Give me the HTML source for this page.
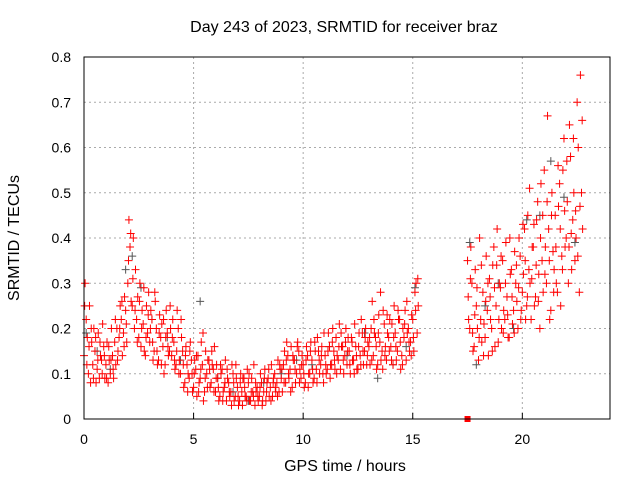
<!DOCTYPE html>
<html><head><meta charset="utf-8"><style>
body{margin:0;background:#fff}
svg{display:block;font-family:"Liberation Sans",sans-serif}
</style></head><body>
<svg id="chart" width="640" height="480">
<rect width="640" height="480" fill="#fff"/>
<text x="344" y="32" font-size="16" text-anchor="middle">Day 243 of 2023, SRMTID for receiver braz</text>
<text x="345" y="471" font-size="16" text-anchor="middle">GPS time / hours</text>
<text transform="translate(19,238) rotate(-90)" font-size="16" text-anchor="middle">SRMTID / TECUs</text>
<g id="grid"></g><g id="ticks"></g><g id="marks"></g>
<rect x="84" y="57" width="526" height="362" fill="none" stroke="#000" stroke-width="1"/>
</svg>
<script>
const xTicks=[0,5,10,15,20];
const yTicks=[0,0.1,0.2,0.3,0.4,0.5,0.6,0.7,0.8];
const yTickLabels=["0","0.1","0.2","0.3","0.4","0.5","0.6","0.7","0.8"];
const segAStart=0.0;
const segAValues1=[0.14,0.22,0.10,0.08,0.12,0.15,0.11,0.09,0.13,0.16,0.12,0.08,0.10,0.14,0.17,0.20,0.18,0.22,0.19,0.24,0.30,0.38,0.25,0.20,0.22,0.18,0.16,0.21,0.14,0.19,0.17,0.22,0.15,0.20,0.13,0.18,0.16,0.12,0.19,0.15,0.14,0.17,0.12,0.20,0.10,0.15,0.08,0.12,0.09,0.13,0.07,0.11,0.14,0.09,0.12,0.06,0.10,0.13,0.08,0.11,0.06,0.09,0.05,0.11,0.07,0.04,0.08,0.06,0.10,0.05,0.07,0.04,0.06,0.09,0.05,0.08,0.04,0.06,0.03,0.07,0.05,0.08,0.06,0.04,0.09,0.07,0.05,0.10,0.08,0.06,0.09,0.12,0.08,0.14,0.11,0.07,0.13,0.10,0.15,0.09,0.12,0.08,0.14,0.10,0.13,0.09,0.11,0.15,0.12,0.10,0.14,0.11,0.16,0.12,0.15,0.18,0.13,0.11,0.16,0.14,0.12,0.15,0.18,0.13,0.16,0.11,0.14,0.19,0.15,0.12,0.16,0.20,0.14,0.18,0.12,0.17,0.15,0.21,0.13,0.18,0.16,0.12,0.19,0.15,0.22,0.14,0.18,0.13,0.20,0.17,0.22,0.28,0.19];
const segAValues2=[0.30,0.18,0.25,0.17,0.20,0.08,0.19,0.14,0.21,0.09,0.17,0.13,0.20,0.09,0.12,0.15,0.25,0.14,0.27,0.17,0.44,0.26,0.40,0.33,0.27,0.30,0.24,0.15,0.25,0.28,0.24,0.13,0.26,0.12,0.23,0.21,0.10,0.24,0.14,0.20,0.22,0.11,0.24,0.13,0.18,0.07,0.16,0.10,0.17,0.06,0.13,0.05,0.08,0.17,0.04,0.15,0.13,0.07,0.12,0.16,0.12,0.04,0.10,0.06,0.13,0.09,0.05,0.12,0.04,0.09,0.03,0.10,0.09,0.05,0.11,0.04,0.09,0.12,0.06,0.04,0.10,0.04,0.11,0.08,0.05,0.12,0.09,0.06,0.13,0.11,0.06,0.15,0.17,0.09,0.16,0.13,0.08,0.17,0.11,0.14,0.07,0.16,0.10,0.17,0.08,0.15,0.18,0.10,0.16,0.19,0.10,0.19,0.12,0.20,0.11,0.14,0.21,0.16,0.10,0.20,0.18,0.10,0.13,0.21,0.11,0.19,0.22,0.12,0.20,0.17,0.12,0.26,0.19,0.11,0.23,0.13,0.24,0.16,0.19,0.22,0.21,0.25,0.13,0.22,0.11,0.20,0.24,0.19,0.15,0.23,0.15,0.30,0.25];
const segAValues3=[0.25,0.12,0.16,0.20,0.09,0.18,0.13,0.17,0.10,0.14,0.09,0.16,0.13,0.11,0.22,0.13,0.20,0.26,0.16,0.21,0.35,0.41,0.31,0.24,0.17,0.26,0.20,0.29,0.18,0.23,0.20,0.17,0.28,0.15,0.19,0.12,0.22,0.18,0.16,0.25,0.18,0.13,0.15,0.10,0.22,0.12,0.14,0.06,0.15,0.10,0.10,0.14,0.06,0.11,0.19,0.09,0.07,0.11,0.15,0.06,0.09,0.07,0.12,0.04,0.08,0.11,0.06,0.03,0.08,0.12,0.05,0.08,0.03,0.07,0.04,0.10,0.06,0.05,0.08,0.05,0.07,0.03,0.09,0.06,0.11,0.04,0.08,0.07,0.05,0.12,0.11,0.08,0.13,0.10,0.06,0.14,0.11,0.16,0.08,0.12,0.10,0.13,0.07,0.15,0.11,0.17,0.08,0.13,0.14,0.08,0.12,0.15,0.09,0.17,0.13,0.10,0.16,0.19,0.13,0.17,0.15,0.12,0.17,0.10,0.14,0.16,0.12,0.15,0.18,0.14,0.18,0.13,0.22,0.16,0.19,0.28,0.11,0.14,0.23,0.15,0.13,0.18,0.16,0.24,0.17,0.12,0.21,0.26,0.17,0.14,0.18,0.24,0.31];
const segBStart=17.5;
const segBValues1=[0.35,0.20,0.30,0.16,0.25,0.13,0.22,0.28,0.18,0.24,0.31,0.20,0.38,0.25,0.17,0.29,0.35,0.22,0.27,0.18,0.33,0.24,0.30,0.20,0.36,0.28,0.42,0.25,0.33,0.22,0.38,0.27,0.48,0.20,0.35,0.55,0.30,0.42,0.24,0.37,0.45,0.28,0.52,0.36,0.62,0.40,0.30,0.58,0.44,0.35,0.70,0.28,0.50];
const segBValues2=[0.22,0.38,0.15,0.33,0.20,0.40,0.17,0.21,0.36,0.14,0.22,0.34,0.16,0.42,0.30,0.20,0.24,0.39,0.18,0.32,0.21,0.37,0.26,0.40,0.24,0.32,0.22,0.45,0.30,0.38,0.25,0.44,0.32,0.52,0.28,0.38,0.67,0.22,0.50,0.33,0.30,0.47,0.25,0.55,0.38,0.48,0.65,0.33,0.50,0.40,0.60,0.76,0.42];
const segBValues3=[0.27,0.31,0.19,0.23,0.29,0.18,0.34,0.14,0.26,0.30,0.27,0.15,0.29,0.34,0.22,0.36,0.19,0.30,0.23,0.40,0.27,0.19,0.34,0.29,0.22,0.43,0.35,0.27,0.51,0.31,0.43,0.34,0.26,0.40,0.45,0.32,0.48,0.35,0.45,0.28,0.38,0.56,0.42,0.33,0.46,0.57,0.38,0.41,0.62,0.46,0.36,0.47,0.66];
const grayTimes=[0.1,0.6,1.2,1.9,2.2,2.6,3.1,3.8,4.4,5.3,6.1,6.8,7.5,8.2,9.0,9.7,10.4,11.2,12.0,12.8,13.4,14.1,14.7,15.1,17.6,17.9,18.3,18.9,19.6,20.2,20.8,21.3,21.9,22.4];
const grayValues=[0.19,0.15,0.11,0.33,0.36,0.29,0.22,0.18,0.13,0.26,0.09,0.06,0.04,0.08,0.10,0.13,0.12,0.16,0.14,0.19,0.09,0.12,0.16,0.29,0.39,0.12,0.25,0.30,0.20,0.44,0.45,0.57,0.49,0.39];
const squareTime=17.5, squareValue=0;
const STEP=0.1;
const X=t=>84+t*(526/24);
const Y=v=>419-v*(362/0.8);
const NS="http://www.w3.org/2000/svg";
const grid=document.getElementById('grid'),ticks=document.getElementById('ticks'),marks=document.getElementById('marks');
function mk(tag,attrs,parent){const e=document.createElementNS(NS,tag);for(const k in attrs)e.setAttribute(k,attrs[k]);parent.appendChild(e);return e;}
xTicks.forEach(t=>{
 if(t>0){const g=mk('line',{x1:X(t),x2:X(t),y1:57,y2:419,stroke:'#aaa','stroke-dasharray':'2,3'},grid);
 
 }
 const tk=mk('line',{x1:X(t),x2:X(t),y1:419,y2:413,stroke:'#000'},ticks);
 
 
 const l=mk('text',{x:X(t),y:444,'font-size':14,'text-anchor':'middle'},ticks);l.textContent=t;
 
 
});
yTicks.forEach((v,i)=>{
 if(v>0&&v<0.8){const g=mk('line',{x1:84,x2:610,y1:Y(v),y2:Y(v),stroke:'#aaa','stroke-dasharray':'2,3'},grid);
 
 }
 const l=mk('text',{x:71,y:Y(v)+5,'font-size':14,'text-anchor':'end'},ticks);l.textContent=yTickLabels[i];
 
 
});
function plus(t,v,color,name){
 const x=X(t),y=Y(v);
 const p=mk('path',{d:`M${x-4},${y}H${x+4}M${x},${y-4}V${y+4}`,stroke:color,'stroke-width':1,fill:'none'},marks);
 
 
}
grayTimes.forEach((t,i)=>plus(t,grayValues[i],'#555','gray-point'));
segAValues1.forEach((v,i)=>plus(segAStart+i*STEP,v,'#f00','red-point'));
segAValues2.forEach((v,i)=>plus(segAStart+i*STEP+0.05,v,'#f00','red-point'));
segAValues3.forEach((v,i)=>plus(segAStart+i*STEP+0.03,v,'#f00','red-point'));
segBValues1.forEach((v,i)=>plus(segBStart+i*STEP,v,'#f00','red-point'));
segBValues2.forEach((v,i)=>plus(segBStart+i*STEP+0.05,v,'#f00','red-point'));
segBValues3.forEach((v,i)=>plus(segBStart+i*STEP+0.03,v,'#f00','red-point'));
const sq=mk('rect',{x:X(squareTime)-3,y:Y(squareValue)-3,width:6,height:6,fill:'#f00'},marks);


</script>
</body></html>
